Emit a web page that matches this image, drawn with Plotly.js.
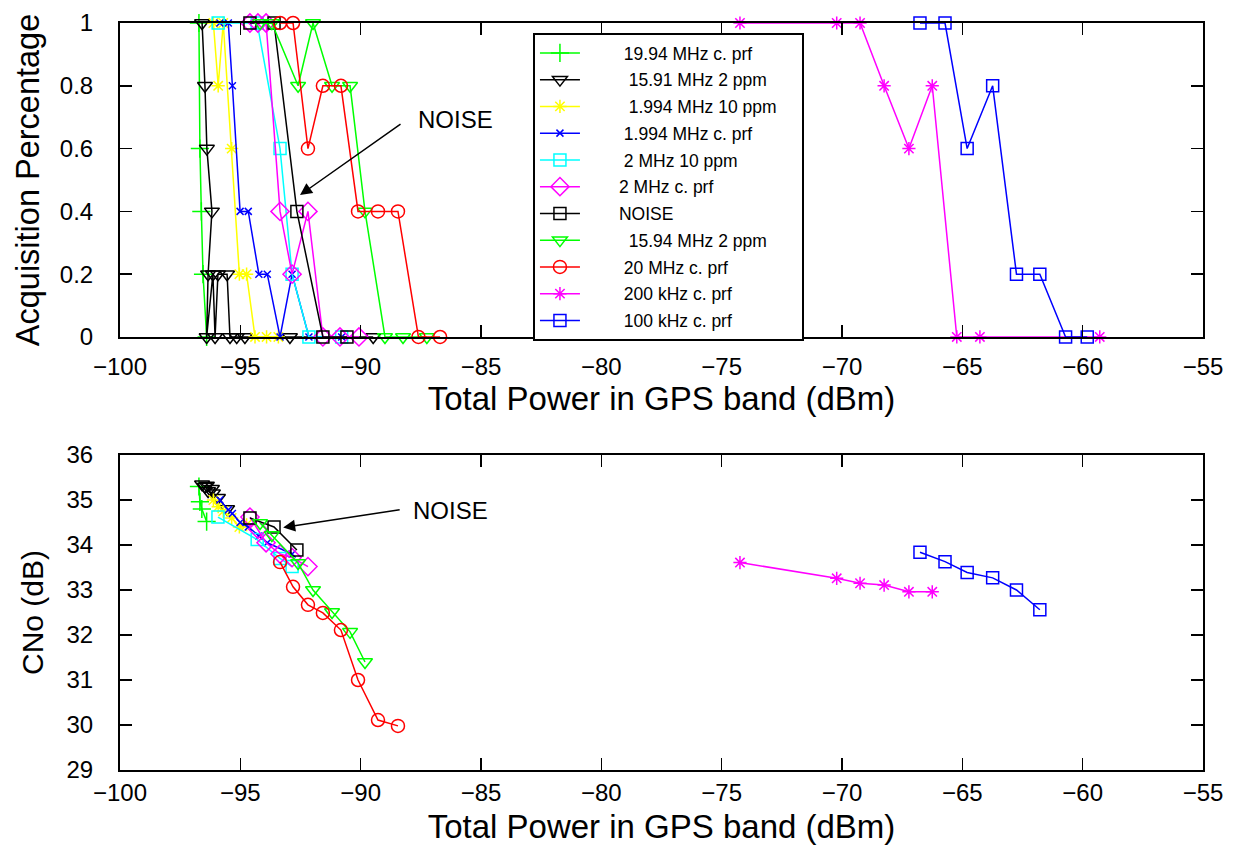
<!DOCTYPE html>
<html>
<head>
<meta charset="utf-8">
<script src="https://cdn.plot.ly/plotly-3.0.1.min.js"></script>
<style>html,body{margin:0;padding:0;background:#fff}</style>
</head>
<body>
<div id="chart" style="width:1235px;height:848px"></div>
<script>
// ---- Data ----
const names = ['\u00a019.94 MHz c. prf', '\u00a0\u00a015.91 MHz 2 ppm', '\u00a0\u00a01.994 MHz 10 ppm', '\u00a01.994 MHz c. prf',
  '\u00a02 MHz 10 ppm', '2 MHz c. prf', 'NOISE', '\u00a0\u00a015.94 MHz 2 ppm', '\u00a020 MHz c. prf', '\u00a0200 kHz c. prf', '\u00a0100 kHz c. prf'];

// Acquisition percentage vs total power (top panel)
const accX_1994cprf = [-96.72, -96.68, -96.62, -96.55, -96.4];
const accY_1994cprf = [1, 0.6, 0.4, 0.2, 0];
const accX_1591 = [-96.59, -96.47, -96.39, -96.18, -96.34, -96.4, -96.14, -96.05, -95.93, -95.55, -95.43, -95.15, -94.81, -92.94, -89.48];
const accY_1591 = [1, 0.8, 0.6, 0.4, 0.2, 0, 0.2, 0, 0.2, 0.2, 0, 0, 0, 0, 0];
const accX_1994_10 = [-96.12, -95.92, -95.71, -95.36, -95.04, -94.74, -94.39, -93.91, -93.42];
const accY_1994_10 = [1, 0.8, 1, 0.6, 0.2, 0.2, 0, 0, 0];
const accX_1994c = [-95.85, -95.5, -95.33, -95.01, -94.67, -94.23, -93.88, -93.35, -92.85, -92.15, -90.79];
const accY_1994c = [1, 1, 0.8, 0.4, 0.4, 0.2, 0.2, 0, 0.2, 0, 0];
const accX_2_10 = [-95.92, -94.3, -93.35, -92.85, -92.15, -90.79];
const accY_2_10 = [1, 1, 0.6, 0.2, 0, 0];
const accX_2c = [-94.6, -94.27, -93.93, -93.35, -92.85, -92.19, -91.57, -90.86, -90.07];
const accY_2c = [1, 1, 1, 0.4, 0.2, 0.4, 0, 0, 0];
const accX_noise = [-94.6, -93.6, -92.65, -91.57, -90.57];
const accY_noise = [1, 1, 0.4, 0, 0];
const accX_1594 = [-94.18, -93.69, -92.6, -91.98, -91.19, -90.44, -89.82, -88.99, -88.24, -87.25];
const accY_1594 = [1, 1, 0.8, 1, 0.8, 0.8, 0.4, 0, 0, 0];
const accX_20 = [-93.35, -92.81, -92.19, -91.57, -90.82, -90.11, -89.28, -88.45, -87.6, -86.7];
const accY_20 = [1, 1, 0.6, 0.8, 0.8, 0.4, 0.4, 0.4, 0, 0];
const accX_200k = [-74.24, -70.22, -69.25, -68.25, -67.22, -66.25, -65.23, -64.27, -59.29];
const accY_200k = [1, 1, 1, 0.8, 0.6, 0.8, 0, 0, 0];
const accX_100k = [-66.76, -65.72, -64.8, -63.74, -62.75, -61.78, -60.71, -59.81];
const accY_100k = [1, 1, 0.6, 0.8, 0.2, 0.2, 0, 0];

// CNo vs total power (bottom panel)
const cnoX_1994cprf = [-96.72, -96.68, -96.6, -96.4];
const cno_1994cprf = [35.3, 34.96, 34.8, 34.52];
const cnoX_1591 = [-96.59, -96.47, -96.39, -96.18, -96.34, -96.14, -95.93, -95.55];
const cno_1591 = [35.35, 35.3, 35.32, 35.25, 35.2, 35.15, 35.05, 34.8];
const cnoX_1994_10 = [-96.12, -95.92, -95.71, -95.36, -95.04, -94.74];
const cno_1994_10 = [35.0, 34.85, 34.75, 34.6, 34.4, 34.45];
const cnoX_1994c = [-95.85, -95.5, -95.33, -95.01, -94.67, -94.23, -93.88, -92.85];
const cno_1994c = [35.0, 34.78, 34.7, 34.5, 34.4, 34.2, 34.05, 33.8];
const cnoX_2_10 = [-95.93, -94.3, -93.35, -92.85];
const cno_2_10 = [34.62, 34.12, 33.7, 33.52];
const cnoX_2c = [-94.6, -94.27, -93.93, -93.35, -92.85, -92.19];
const cno_2c = [34.62, 34.35, 34.05, 33.8, 33.72, 33.52];
const cnoX_noise = [-94.6, -93.6, -92.65];
const cno_noise = [34.6, 34.4, 33.89];
const cnoX_1594 = [-94.18, -93.69, -92.6, -91.98, -91.19, -90.44, -89.82];
const cno_1594 = [34.49, 34.22, 33.6, 33.0, 32.51, 32.07, 31.4];
const cnoX_20 = [-93.35, -92.81, -92.19, -91.57, -90.82, -90.11, -89.28, -88.45];
const cno_20 = [33.62, 33.07, 32.67, 32.49, 32.11, 31.0, 30.11, 29.98];
const cnoX_200k = [-74.24, -70.22, -69.25, -68.25, -67.22, -66.25];
const cno_200k = [33.61, 33.26, 33.15, 33.11, 32.96, 32.96];
const cnoX_100k = [-66.76, -65.72, -64.8, -63.74, -62.75, -61.78];
const cno_100k = [33.84, 33.63, 33.39, 33.27, 33.0, 32.56];

const xTickVals = [-100, -95, -90, -85, -80, -75, -70, -65, -60, -55];
const accTickVals = [0, 0.2, 0.4, 0.6, 0.8, 1];
const accTickText = ['0', '0.2', '0.4', '0.6', '0.8', '1'];
const cnoTickVals = [29, 30, 31, 32, 33, 34, 35, 36];

// ---- Styles ----
const styles = [
  {color: '#00ff00', symbol: 'cross-thin-open', size: 13},
  {color: '#000000', symbol: 'triangle-down-open', size: 13},
  {color: '#ffff00', symbol: 'asterisk-open', size: 11},
  {color: '#0000ff', symbol: 'x-thin-open', size: 7},
  {color: '#00ffff', symbol: 'square-open', size: 12},
  {color: '#ff00ff', symbol: 'diamond-open', size: 14},
  {color: '#000000', symbol: 'square-open', size: 12},
  {color: '#00ff00', symbol: 'triangle-down-open', size: 13},
  {color: '#ff0000', symbol: 'circle-open', size: 13},
  {color: '#ff00ff', symbol: 'asterisk-open', size: 11},
  {color: '#0000ff', symbol: 'square-open', size: 12}
];
const accSets = [[accX_1994cprf, accY_1994cprf], [accX_1591, accY_1591], [accX_1994_10, accY_1994_10], [accX_1994c, accY_1994c],
  [accX_2_10, accY_2_10], [accX_2c, accY_2c], [accX_noise, accY_noise], [accX_1594, accY_1594], [accX_20, accY_20],
  [accX_200k, accY_200k], [accX_100k, accY_100k]];
const cnoSets = [[cnoX_1994cprf, cno_1994cprf], [cnoX_1591, cno_1591], [cnoX_1994_10, cno_1994_10], [cnoX_1994c, cno_1994c],
  [cnoX_2_10, cno_2_10], [cnoX_2c, cno_2c], [cnoX_noise, cno_noise], [cnoX_1594, cno_1594], [cnoX_20, cno_20],
  [cnoX_200k, cno_200k], [cnoX_100k, cno_100k]];

const NB = '\u00a0';
const traces = [];
names.forEach((n, i) => {
  const s = styles[i];
  traces.push({
    type: 'scatter', mode: 'lines+markers', name: NB.repeat(7) + n + NB.repeat(4), legendgroup: 'g' + i,
    x: accSets[i][0], y: accSets[i][1], xaxis: 'x', yaxis: 'y', cliponaxis: false,
    line: {color: s.color, width: 1.5},
    marker: {symbol: s.symbol, size: s.size, color: s.color, line: {color: s.color, width: 1.5}}
  });
});
names.forEach((n, i) => {
  const s = styles[i];
  traces.push({
    type: 'scatter', mode: 'lines+markers', name: n, legendgroup: 'g' + i, showlegend: false,
    x: cnoSets[i][0], y: cnoSets[i][1], xaxis: 'x2', yaxis: 'y2', cliponaxis: false,
    line: {color: s.color, width: 1.5},
    marker: {symbol: s.symbol, size: s.size, color: s.color, line: {color: s.color, width: 1.5}}
  });
});

const FONT = 'Arial, "Liberation Sans", sans-serif';
const axisCommon = {
  showgrid: false, zeroline: false, showline: true, linecolor: '#000', linewidth: 2,
  mirror: 'ticks', ticks: 'inside', ticklen: 12, tickwidth: 1.5, tickcolor: '#000',
  tickfont: {family: FONT, size: 24, color: '#000'}
};

const layout = {
  width: 1235, height: 848,
  margin: {l: 120, r: 32, t: 23, b: 78},
  paper_bgcolor: '#fff', plot_bgcolor: '#fff',
  font: {family: FONT, color: '#000'},
  showlegend: true,
  legend: {
    x: 0.3813, y: 0.9866, xanchor: 'left', yanchor: 'top',
    bgcolor: '#fff', bordercolor: '#000', borderwidth: 2,
    font: {family: FONT, size: 17.5, color: '#000'},
    tracegroupgap: 1, traceorder: 'grouped', itemwidth: 40
  },
  xaxis: Object.assign({}, axisCommon, {
    domain: [0, 1], anchor: 'y', range: [-100, -55], tickvals: xTickVals,
    ticklabelstandoff: 7,
    title: {text: 'Total Power in GPS band (dBm)', font: {family: FONT, size: 33}, standoff: 4}
  }),
  yaxis: Object.assign({}, axisCommon, {
    domain: [0.5797, 1], anchor: 'x', range: [0, 1], tickvals: accTickVals, ticktext: accTickText,
    ticklabelstandoff: 20,
    title: {text: 'Acquisition Percentage', font: {family: FONT, size: 32.5}, standoff: 10}
  }),
  xaxis2: Object.assign({}, axisCommon, {
    domain: [0, 1], anchor: 'y2', range: [-100, -55], tickvals: xTickVals,
    ticklabelstandoff: 0,
    title: {text: 'Total Power in GPS band (dBm)', font: {family: FONT, size: 33}, standoff: 10}
  }),
  yaxis2: Object.assign({}, axisCommon, {
    domain: [0, 0.4217], anchor: 'x2', range: [29, 36], tickvals: cnoTickVals,
    ticklabelstandoff: 20,
    title: {text: 'CNo (dB)', font: {family: FONT, size: 30}, standoff: 14}
  }),
  annotations: [
    {xref: 'x', yref: 'y', x: -86.08, y: 0.694, text: 'NOISE', showarrow: false,
     font: {family: FONT, size: 24, color: '#000'}},
    {xref: 'x', yref: 'y', x: -92.52, y: 0.452, text: '', showarrow: true,
     ax: 102, ay: -72, arrowhead: 2, arrowsize: 1.6, arrowwidth: 1.5, arrowcolor: '#000'},
    {xref: 'x2', yref: 'y2', x: -86.25, y: 34.76, text: 'NOISE', showarrow: false,
     font: {family: FONT, size: 24, color: '#000'}},
    {xref: 'x2', yref: 'y2', x: -93.22, y: 34.39, text: '', showarrow: true,
     ax: 118, ay: -18, arrowhead: 2, arrowsize: 1.6, arrowwidth: 1.5, arrowcolor: '#000'}
  ]
};

Plotly.newPlot('chart', traces, layout, {displayModeBar: false, staticPlot: true});
</script>
</body>
</html>
